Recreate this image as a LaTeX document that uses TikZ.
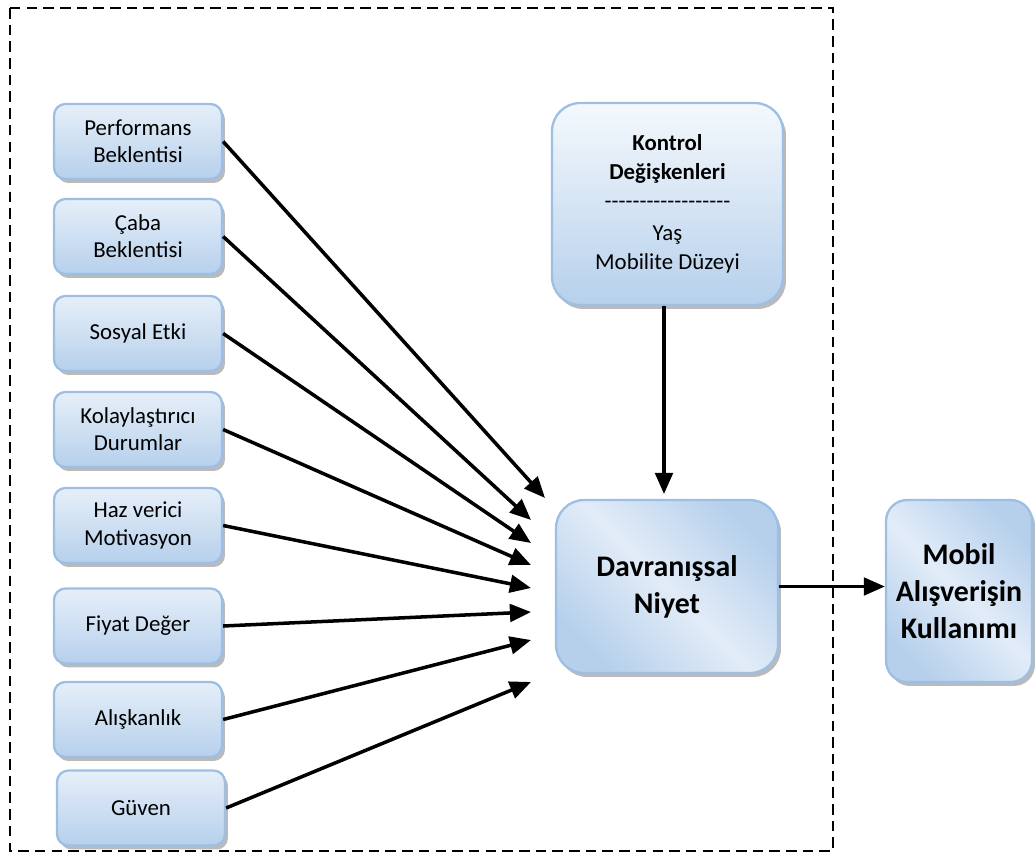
\documentclass[tikz,border=0pt]{standalone}
\usepackage{fontspec}
\setmainfont{Carlito}
\newfontfamily\plainfont[Ligatures=TeXOff]{Carlito}
\usetikzlibrary{arrows.meta,shadows}
\definecolor{boxtop}{HTML}{E6EFF9}
\definecolor{boxbot}{HTML}{B6D0EC}
\definecolor{boxmid}{HTML}{E2ECF8}
\definecolor{boxline}{HTML}{9DBFE3}
\tikzset{
  softshadow/.style={drop shadow={shadow xshift=0.6mm, shadow yshift=-0.8mm, fill=black!45, opacity=.6}},
  factor/.style={rectangle, rounded corners=6.5pt, draw=boxline, line width=1.3pt,
    top color=boxtop, bottom color=boxbot, align=center,
    minimum width=3.36cm, minimum height=1.5cm, inner sep=2pt,
    font=\fontsize{13}{15.5}\selectfont, softshadow},
  bigbox/.style={rectangle, draw=boxline, line width=1.3pt,
    left color=boxbot, right color=boxbot, middle color=boxmid, shading angle=135,
    align=center, inner sep=3pt, softshadow},
  link/.style={line width=2pt, -{Triangle[length=12pt,width=10pt]}},
  frame/.style={dash pattern=on 6pt off 3.5pt, line width=1.2pt}
}
\begin{document}
\begin{tikzpicture}[x=0.02cm, y=-0.02cm]
\useasboundingbox (0,0) rectangle (1036,856);
% outer dashed frame
\draw[frame] (10,8) rectangle (833,851);

% influencing factors
\node[factor] (pe) at (138,141.5) {Performans\\Beklentisi};
\node[factor] (ce) at (138,236.5) {Çaba\\Beklentisi};
\node[factor] (se) at (138,333.5) {Sosyal Etki};
\node[factor] (kd) at (138,429.5) {Kolaylaştırıcı\\Durumlar};
\node[factor] (hm) at (138,525.5) {Haz verici\\Motivasyon};
\node[factor] (fd) at (138,626) {Fiyat Değer};
\node[factor] (al) at (138,719.5) {Alışkanlık};
\node[factor] (gu) at (141,808) {Güven};

% control variables
\node[rectangle, draw=boxline, line width=1.3pt, top color=white!60!boxtop, bottom color=boxbot,
  align=center, inner sep=3pt, softshadow,
  rounded corners=16pt, minimum width=4.62cm, minimum height=4.04cm,
  font=\fontsize{13}{16.5}\selectfont] (kv) at (667.5,204)
  {\textbf{Kontrol}\\\textbf{Değişkenleri}\\{\plainfont ------------------}\\[2pt]Yaş\\Mobilite Düzeyi};

% behavioural intention and use
\node[bigbox, rounded corners=16pt, minimum width=4.44cm, minimum height=3.46cm,
  font=\fontsize{17}{21}\selectfont\bfseries] (dn) at (667,586.5) {Davranışsal\\Niyet};
\node[bigbox, rounded corners=12pt, minimum width=2.92cm, minimum height=3.64cm,
  font=\fontsize{17}{21}\selectfont\bfseries] (mk) at (959,591) {Mobil\\Alışverişin\\Kullanımı};

% arrow heads stop short of the intention box
\coordinate (t1) at (545,498);
\coordinate (t2) at (531,520);
\coordinate (t3) at (531,543);
\coordinate (t4) at (531,565);
\coordinate (t5) at (531,588);
\coordinate (t6) at (531,612);
\coordinate (t7) at (531,640);
\coordinate (t8) at (531,682);
\coordinate (tk) at (664,494);

\draw[link] (pe.east) -- (t1);
\draw[link] (ce.east) -- (t2);
\draw[link] (se.east) -- (t3);
\draw[link] (kd.east) -- (t4);
\draw[link] (hm.east) -- (t5);
\draw[link] (fd.east) -- (t6);
\draw[link] (al.east) -- (t7);
\draw[link] (gu.east) -- (t8);
\draw[link] (kv.south -| tk) -- (tk);
\draw[link] (dn.east) -- (dn.east -| mk.west);
\end{tikzpicture}
\end{document}
